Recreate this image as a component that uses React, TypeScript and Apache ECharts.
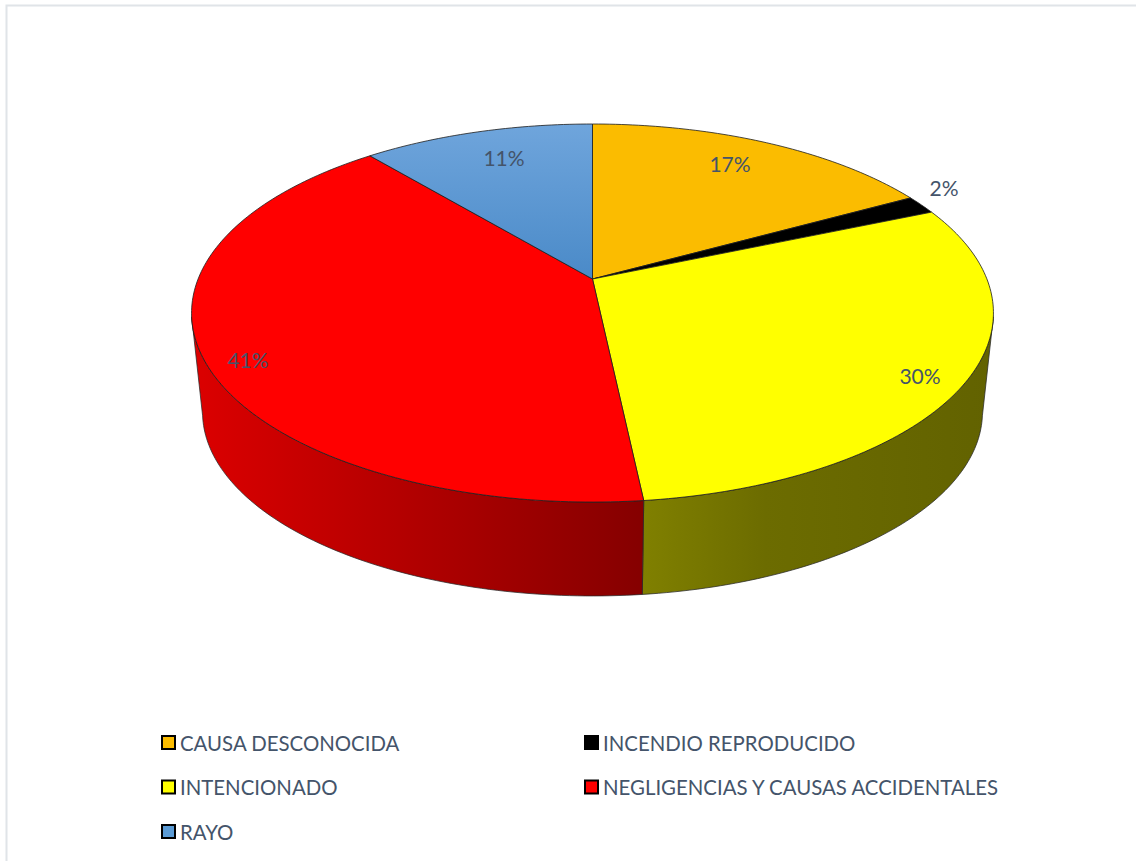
import React, { useEffect, useRef } from "react";
import * as echarts from "echarts";

const categories = [
  "CAUSA DESCONOCIDA",
  "INCENDIO REPRODUCIDO",
  "INTENCIONADO",
  "NEGLIGENCIAS Y CAUSAS ACCIDENTALES",
  "RAYO",
];
const values = [17.0, 1.6, 29.7, 40.6, 11.1];

const labelAnchors = [
  [730, 163],
  [944, 187],
  [920, 375],
  [248, 359],
  [504, 157],
];

const blue = () =>
  new echarts.graphic.LinearGradient(0, 0, 0, 1, [
    { offset: 0, color: "#6fa5dc" },
    { offset: 1, color: "#4a8ac8" },
  ]);
const topColors: any[] = ["#fbbc00", "#000000", "#ffff00", "#ff0000", blue()];
const sideStops: any[] = [
  null,
  null,
  [
    [0, "#808000"],
    [0.35, "#6c6c00"],
    [1, "#626200"],
  ],
  [
    [0, "#dc0000"],
    [1, "#850000"],
  ],
  null,
];

// Projective mapping of the unit disk on to the tilted pie.
const TILT = -0.18;
const APEX_X = 592.5;
const TOP_APEX_Y = 279;
const BOTTOM_APEX_Y = 379;
const SPAN_X = 394.4;
const SPAN_Y = 182.9;
const BOTTOM_SCALE = 0.9726;
const VISIBLE_FROM = (101.5 * Math.PI) / 180;
const VISIBLE_TO = (258.5 * Math.PI) / 180;

const project = (theta: number, apexY: number, scale: number) => {
  const u = Math.sin(theta);
  const v = -Math.cos(theta);
  const w = 1 + TILT * v;
  return [APEX_X + (scale * SPAN_X * u) / w, apexY + (scale * SPAN_Y * v) / w];
};

const arc = (from: number, to: number, apexY: number, scale: number) => {
  const n = Math.max(2, Math.ceil(((to - from) * 180) / Math.PI));
  const pts: number[][] = [];
  for (let i = 0; i <= n; i++) pts.push(project(from + ((to - from) * i) / n, apexY, scale));
  return pts;
};

const total = values.reduce((a, b) => a + b, 0);

const renderSlice = (index: number) => (_params: any, api: any) => {
  const before = values.slice(0, index).reduce((a, b) => a + b, 0);
  const start = (before / total) * Math.PI * 2;
  const end = ((before + api.value(0)) / total) * Math.PI * 2;
  const children: any[] = [];

  const stops = sideStops[index];
  const a = Math.max(start, VISIBLE_FROM);
  const b = Math.min(end, VISIBLE_TO);
  if (stops && b > a) {
    children.push({
      type: "polygon",
      z2: 1,
      shape: { points: [...arc(a, b, TOP_APEX_Y, 1), ...arc(a, b, BOTTOM_APEX_Y, BOTTOM_SCALE).reverse()] },
      style: {
        fill: new echarts.graphic.LinearGradient(
          0,
          0,
          1,
          0,
          stops.map(([offset, color]: [number, string]) => ({ offset, color }))
        ),
        stroke: "rgba(40,40,40,0.75)",
        lineWidth: 1,
      },
    });
  }

  children.push({
    type: "polygon",
    z2: 2,
    shape: { points: [[APEX_X, TOP_APEX_Y], ...arc(start, end, TOP_APEX_Y, 1)] },
    style: { fill: topColors[index], stroke: "rgba(30,30,30,0.8)", lineWidth: 1 },
  });

  const [lx, ly] = labelAnchors[index];
  children.push({
    type: "text",
    z2: 3,
    x: lx,
    y: ly,
    style: {
      text: `${Math.round(api.value(0))}%`,
      fill: "#44546a",
      font: "21px Lato",
      align: "center",
      verticalAlign: "middle",
    },
  });
  return { type: "group", children };
};

const legendBase = {
  orient: "vertical" as const,
  selectedMode: false,
  itemWidth: 13,
  itemHeight: 13,
  itemGap: 24.5,
  padding: 0,
  icon: "rect",
  itemStyle: { borderColor: "#000000", borderWidth: 2 },
  textStyle: { color: "#44546a", fontFamily: "Lato", fontSize: 20.4, lineHeight: 20, padding: 0 },
};

export default function App() {
  const ref = useRef<HTMLDivElement>(null);
  useEffect(() => {
    const chart = echarts.init(ref.current!, undefined, { renderer: "svg" });
    chart.setOption({
      animation: false,
      backgroundColor: "#ffffff",
      legend: [
        { ...legendBase, left: 161, top: 732.5, data: [categories[0], categories[2], categories[4]] },
        { ...legendBase, left: 584, top: 732.5, data: [categories[1], categories[3]] },
      ],
      graphic: [
        {
          type: "polyline",
          z: 0,
          shape: { points: [[6.5, 861], [6.5, 5.5], [1136, 5.5]] },
          style: { fill: "none", stroke: "#e0e4e8", lineWidth: 2 },
        },
      ],
      series: categories.map((name, i) => ({
        type: "custom",
        name,
        coordinateSystem: "none",
        silent: true,
        clip: false,
        itemStyle: { color: i === 4 ? "#5b9bd5" : topColors[i] },
        data: [values[i]],
        renderItem: renderSlice(i),
      })),
    });
    return () => chart.dispose();
  }, []);
  return (
    <div
      ref={ref}
      style={{ position: "fixed", left: 0, top: 0, width: 1136, height: 861 }}
    />
  );
}
